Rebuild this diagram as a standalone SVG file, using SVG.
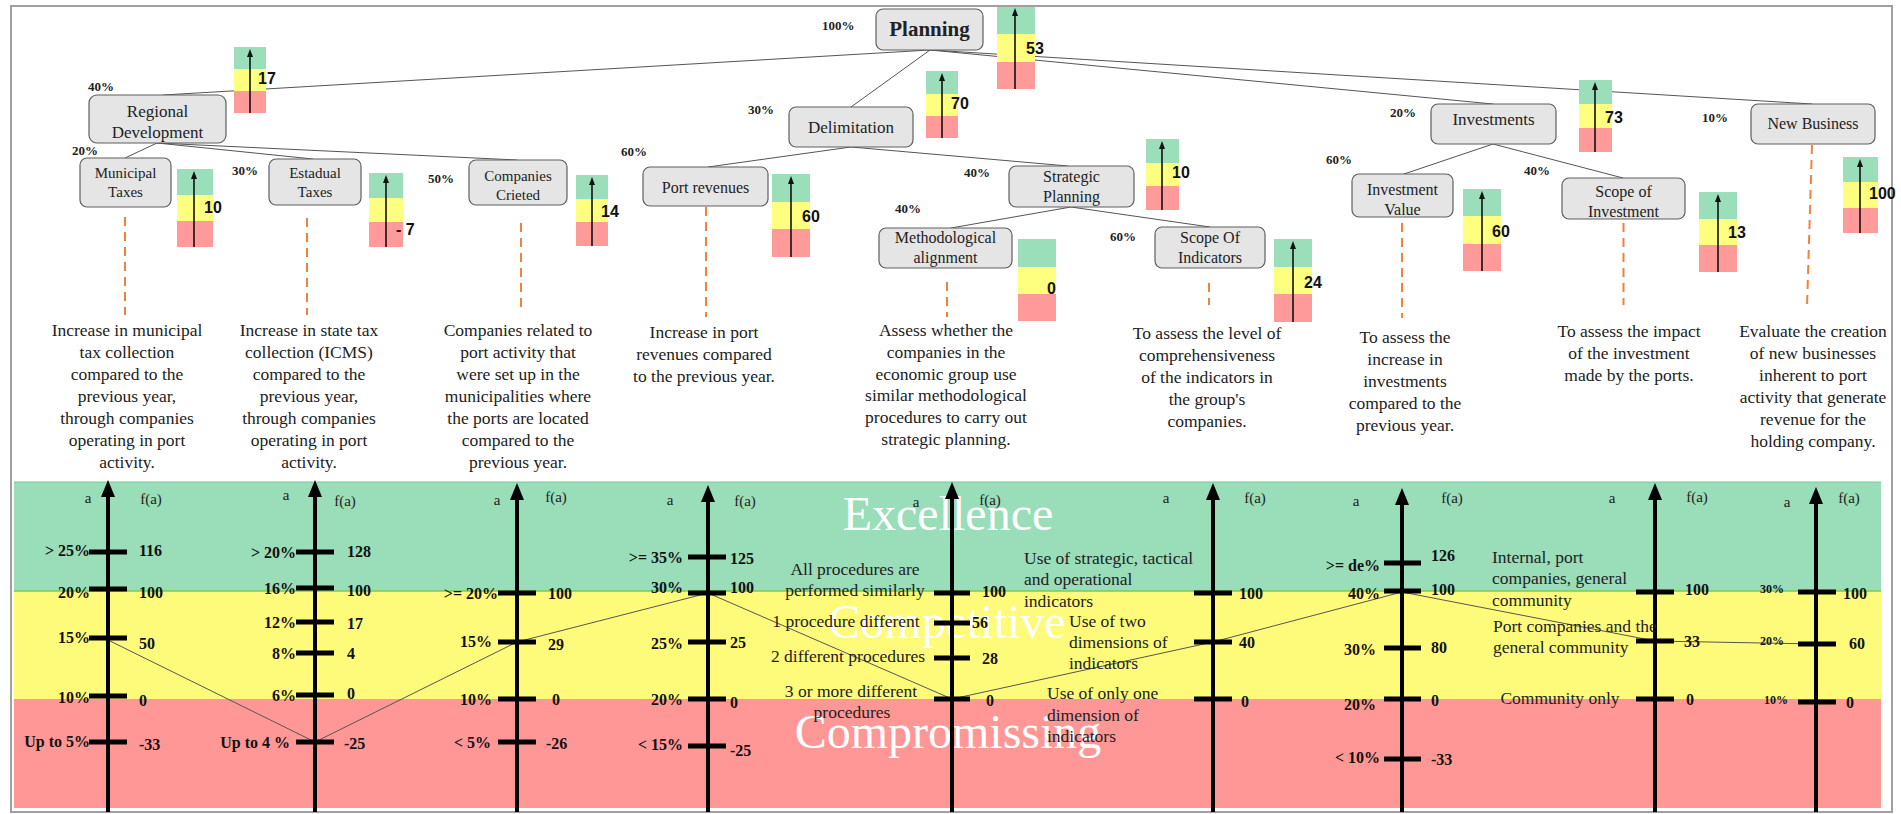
<svg xmlns="http://www.w3.org/2000/svg" xmlns:xlink="http://www.w3.org/1999/xlink" width="1901" height="814" viewBox="0 0 1901 814">
<style>
.node rect{fill:#E5E5E5;stroke:#5F5F5F;stroke-width:1.2}
.nt{font-family:"Liberation Serif",serif;font-size:16px;fill:#222;text-anchor:middle}
.nts{font-family:"Liberation Serif",serif;font-size:15px;fill:#222;text-anchor:middle}
.pct{font-family:"Liberation Serif",serif;font-size:13px;font-weight:bold;fill:#222}
.gv{font-family:"Liberation Sans",sans-serif;font-size:16px;font-weight:bold;fill:#111}
.desc{font-family:"Liberation Serif",serif;font-size:17.5px;fill:#222;text-anchor:middle}
.dash{stroke:#F0823C;stroke-width:2;stroke-dasharray:9 6;fill:none}
.edge{stroke:#555;stroke-width:1;fill:none}
.gg{fill:#9ADFB9}.gy{fill:#FFFF7F}.gr{fill:#FF9A9A}
.garr{stroke:#111;stroke-width:1.6}
.axis{stroke:#000;stroke-width:4}
.tick{stroke:#000;stroke-width:5}
.tl{font-family:"Liberation Serif",serif;font-size:16px;font-weight:bold;fill:#111;text-anchor:end}
.tls{font-family:"Liberation Serif",serif;font-size:12px;font-weight:bold;fill:#111;text-anchor:end}
.tv{font-family:"Liberation Serif",serif;font-size:16px;font-weight:bold;fill:#111}
.ax{font-family:"Liberation Serif",serif;font-size:15px;fill:#222;text-anchor:middle}
.opt{font-family:"Liberation Serif",serif;font-size:17.5px;fill:#222}
.optc{font-family:"Liberation Serif",serif;font-size:17.5px;fill:#222;text-anchor:middle}
.band{font-family:"Liberation Serif",serif;font-size:48px;fill:#fff;text-anchor:middle}
</style>
<defs>
<path id="ah" d="M-7,17 L0,0 L7,17 Z" fill="#000"/>
<path id="gah" d="M-3,8 L0,0 L3,8 Z" fill="#111"/>
</defs>
<rect x="0" y="0" width="1901" height="814" fill="#fff"/>
<rect x="11" y="6" width="1881" height="806" fill="#fff" stroke="#A0A0A0" stroke-width="2"/>

<!-- connectors -->
<g id="connectors">
<line class="edge" x1="930" y1="50" x2="163" y2="95"/>
<line class="edge" x1="930" y1="50" x2="851" y2="107"/>
<line class="edge" x1="930" y1="50" x2="1493" y2="104"/>
<line class="edge" x1="930" y1="50" x2="1812" y2="104"/>
<line class="edge" x1="157" y1="143" x2="125" y2="158"/>
<line class="edge" x1="157" y1="143" x2="313" y2="159"/>
<line class="edge" x1="157" y1="143" x2="517" y2="160"/>
<line class="edge" x1="851" y1="147" x2="708" y2="167"/>
<line class="edge" x1="851" y1="147" x2="1068" y2="166"/>
<line class="edge" x1="1071" y1="207" x2="951" y2="228"/>
<line class="edge" x1="1071" y1="207" x2="1210" y2="227"/>
<line class="edge" x1="1493" y1="144" x2="1404" y2="174"/>
<line class="edge" x1="1493" y1="144" x2="1623" y2="178"/>
<line class="dash" x1="125" y1="217" x2="125" y2="315"/>
<line class="dash" x1="307" y1="218" x2="307" y2="315"/>
<line class="dash" x1="521" y1="223" x2="521" y2="310"/>
<line class="dash" x1="706" y1="207" x2="706" y2="317"/>
<line class="dash" x1="947" y1="282" x2="947" y2="317"/>
<line class="dash" x1="1209" y1="283" x2="1209" y2="305"/>
<line class="dash" x1="1402" y1="223" x2="1402" y2="318"/>
<line class="dash" x1="1623.5" y1="223" x2="1623.5" y2="305"/>
<line class="dash" x1="1812" y1="145" x2="1807" y2="307"/>
</g>

<!-- nodes -->
<g id="node-planning" class="node"><rect x="876" y="9" width="107" height="41" rx="7"/><text x="929.5" y="36" class="nt" style="font-size:21px;font-weight:bold">Planning</text></g>
<g id="node-regional" class="node"><rect x="89" y="95" width="137" height="48" rx="8"/><text x="157.5" y="117" class="nt" style="font-size:17px">Regional</text><text x="157.5" y="138" class="nt" style="font-size:17px">Development</text></g>
<g id="node-municipal" class="node"><rect x="80" y="158" width="91" height="49" rx="7"/><text x="125.5" y="178" class="nts">Municipal</text><text x="125.5" y="197" class="nts">Taxes</text></g>
<g id="node-estadual" class="node"><rect x="269" y="159" width="92" height="46" rx="7"/><text x="315" y="178" class="nts">Estadual</text><text x="315" y="197" class="nts">Taxes</text></g>
<g id="node-companies" class="node"><rect x="469" y="160" width="98" height="45" rx="7"/><text x="518" y="181" class="nts">Companies</text><text x="518" y="200" class="nts">Crieted</text></g>
<g id="node-delimitation" class="node"><rect x="789" y="107" width="124" height="40" rx="7"/><text x="851" y="133" class="nt" style="font-size:17px">Delimitation</text></g>
<g id="node-portrevenues" class="node"><rect x="643" y="167" width="125" height="39" rx="7"/><text x="705.5" y="193" class="nt">Port revenues</text></g>
<g id="node-strategic" class="node"><rect x="1009" y="166" width="125" height="41" rx="7"/><text x="1071.5" y="182" class="nt">Strategic</text><text x="1071.5" y="202" class="nt">Planning</text></g>
<g id="node-methodological" class="node"><rect x="879" y="228" width="133" height="40" rx="7"/><text x="945.5" y="243" class="nt">Methodological</text><text x="945.5" y="263" class="nt">alignment</text></g>
<g id="node-scopeind" class="node"><rect x="1155" y="227" width="110" height="41" rx="7"/><text x="1210" y="243" class="nt">Scope Of</text><text x="1210" y="263" class="nt">Indicators</text></g>
<g id="node-investments" class="node"><rect x="1431" y="104" width="125" height="40" rx="7"/><text x="1493.5" y="125" class="nt" style="font-size:17px">Investments</text></g>
<g id="node-newbusiness" class="node"><rect x="1751" y="104" width="124" height="40" rx="7"/><text x="1813" y="129" class="nt">New Business</text></g>
<g id="node-invvalue" class="node"><rect x="1352" y="174" width="101" height="43" rx="7"/><text x="1402.5" y="195" class="nt">Investment</text><text x="1402.5" y="215" class="nt">Value</text></g>
<g id="node-scopeinv" class="node"><rect x="1562" y="178" width="123" height="41" rx="7"/><text x="1623.5" y="197" class="nt">Scope of</text><text x="1623.5" y="217" class="nt">Investment</text></g>

<!-- weights -->
<g id="weights">
<text class="pct" x="822" y="30">100%</text>
<text class="pct" x="88" y="91">40%</text>
<text class="pct" x="72" y="155">20%</text>
<text class="pct" x="232" y="175">30%</text>
<text class="pct" x="428" y="183">50%</text>
<text class="pct" x="748" y="114">30%</text>
<text class="pct" x="621" y="156">60%</text>
<text class="pct" x="964" y="177">40%</text>
<text class="pct" x="895" y="213">40%</text>
<text class="pct" x="1110" y="241">60%</text>
<text class="pct" x="1390" y="117">20%</text>
<text class="pct" x="1326" y="164">60%</text>
<text class="pct" x="1524" y="175">40%</text>
<text class="pct" x="1702" y="122">10%</text>
</g>

<!-- gauges -->
<g id="gauge-planning"><rect class="gg" x="997" y="7" width="38" height="27"/><rect class="gy" x="997" y="34" width="38" height="28"/><rect class="gr" x="997" y="62" width="38" height="27"/><line class="garr" x1="1015" y1="89" x2="1015" y2="14"/><use href="#gah" x="1015" y="8"/><text class="gv" x="1026" y="54">53</text></g>
<g id="gauge-regional"><rect class="gg" x="234" y="47" width="32" height="22"/><rect class="gy" x="234" y="69" width="32" height="22"/><rect class="gr" x="234" y="91" width="32" height="22"/><line class="garr" x1="250" y1="113" x2="250" y2="55"/><use href="#gah" x="250" y="49"/><text class="gv" x="258" y="84">17</text></g>
<g id="gauge-delimitation"><rect class="gg" x="926" y="71" width="32" height="23"/><rect class="gy" x="926" y="94" width="32" height="22"/><rect class="gr" x="926" y="116" width="32" height="22"/><line class="garr" x1="942" y1="138" x2="942" y2="79"/><use href="#gah" x="942" y="73"/><text class="gv" x="951" y="109">70</text></g>
<g id="gauge-investments"><rect class="gg" x="1579" y="80" width="33" height="24"/><rect class="gy" x="1579" y="104" width="33" height="24"/><rect class="gr" x="1579" y="128" width="33" height="24"/><line class="garr" x1="1595" y1="152" x2="1595" y2="88"/><use href="#gah" x="1595" y="82"/><text class="gv" x="1605" y="123">73</text></g>
<g id="gauge-municipal"><rect class="gg" x="177" y="169" width="36" height="26"/><rect class="gy" x="177" y="195" width="36" height="26"/><rect class="gr" x="177" y="221" width="36" height="26"/><line class="garr" x1="194" y1="247" x2="194" y2="177"/><use href="#gah" x="194" y="171"/><text class="gv" x="204" y="213">10</text></g>
<g id="gauge-estadual"><rect class="gg" x="369" y="173" width="34" height="25"/><rect class="gy" x="369" y="198" width="34" height="24"/><rect class="gr" x="369" y="222" width="34" height="25"/><line class="garr" x1="386" y1="247" x2="386" y2="181"/><use href="#gah" x="386" y="175"/><text class="gv" x="396" y="235">- 7</text></g>
<g id="gauge-companies"><rect class="gg" x="576" y="175" width="32" height="24"/><rect class="gy" x="576" y="199" width="32" height="23"/><rect class="gr" x="576" y="222" width="32" height="24"/><line class="garr" x1="592" y1="246" x2="592" y2="183"/><use href="#gah" x="592" y="177"/><text class="gv" x="601" y="217">14</text></g>
<g id="gauge-portrevenues"><rect class="gg" x="772" y="174" width="38" height="28"/><rect class="gy" x="772" y="202" width="38" height="27"/><rect class="gr" x="772" y="229" width="38" height="28"/><line class="garr" x1="791" y1="257" x2="791" y2="182"/><use href="#gah" x="791" y="176"/><text class="gv" x="802" y="222">60</text></g>
<g id="gauge-strategic"><rect class="gg" x="1146" y="139" width="33" height="24"/><rect class="gy" x="1146" y="163" width="33" height="23"/><rect class="gr" x="1146" y="186" width="33" height="24"/><line class="garr" x1="1162" y1="210" x2="1162" y2="147"/><use href="#gah" x="1162" y="141"/><text class="gv" x="1172" y="178">10</text></g>
<g id="gauge-methodological"><rect class="gg" x="1018" y="239" width="38" height="28"/><rect class="gy" x="1018" y="267" width="38" height="27"/><rect class="gr" x="1018" y="294" width="38" height="27"/><text class="gv" x="1047" y="294">0</text></g>
<g id="gauge-scopeind"><rect class="gg" x="1274" y="239" width="38" height="28"/><rect class="gy" x="1274" y="267" width="38" height="27"/><rect class="gr" x="1274" y="294" width="38" height="28"/><line class="garr" x1="1293" y1="322" x2="1293" y2="247"/><use href="#gah" x="1293" y="241"/><text class="gv" x="1304" y="288">24</text></g>
<g id="gauge-invvalue"><rect class="gg" x="1463" y="189" width="38" height="27"/><rect class="gy" x="1463" y="216" width="38" height="28"/><rect class="gr" x="1463" y="244" width="38" height="27"/><line class="garr" x1="1482" y1="271" x2="1482" y2="197"/><use href="#gah" x="1482" y="191"/><text class="gv" x="1492" y="237">60</text></g>
<g id="gauge-scopeinv"><rect class="gg" x="1699" y="192" width="38" height="27"/><rect class="gy" x="1699" y="219" width="38" height="26"/><rect class="gr" x="1699" y="245" width="38" height="27"/><line class="garr" x1="1718" y1="272" x2="1718" y2="200"/><use href="#gah" x="1718" y="194"/><text class="gv" x="1728" y="238">13</text></g>
<g id="gauge-newbusiness"><rect class="gg" x="1843" y="157" width="35" height="25"/><rect class="gy" x="1843" y="182" width="35" height="26"/><rect class="gr" x="1843" y="208" width="35" height="25"/><line class="garr" x1="1860" y1="233" x2="1860" y2="165"/><use href="#gah" x="1860" y="159"/><text class="gv" x="1869" y="199">100</text></g>

<!-- descriptions -->
<g id="descriptions">
<text class="desc" x="127" y="336">Increase in municipal<tspan x="127" dy="22">tax collection</tspan><tspan x="127" dy="22">compared to the</tspan><tspan x="127" dy="22">previous year,</tspan><tspan x="127" dy="22">through companies</tspan><tspan x="127" dy="22">operating in port</tspan><tspan x="127" dy="22">activity.</tspan></text>
<text class="desc" x="309" y="336">Increase in state tax<tspan x="309" dy="22">collection (ICMS)</tspan><tspan x="309" dy="22">compared to the</tspan><tspan x="309" dy="22">previous year,</tspan><tspan x="309" dy="22">through companies</tspan><tspan x="309" dy="22">operating in port</tspan><tspan x="309" dy="22">activity.</tspan></text>
<text class="desc" x="518" y="336">Companies related to<tspan x="518" dy="22">port activity that</tspan><tspan x="518" dy="22">were set up in the</tspan><tspan x="518" dy="22">municipalities where</tspan><tspan x="518" dy="22">the ports are located</tspan><tspan x="518" dy="22">compared to the</tspan><tspan x="518" dy="22">previous year.</tspan></text>
<text class="desc" x="704" y="338">Increase in port<tspan x="704" dy="22">revenues compared</tspan><tspan x="704" dy="22">to the previous year.</tspan></text>
<text class="desc" x="946" y="336">Assess whether the<tspan x="946" dy="21.8">companies in the</tspan><tspan x="946" dy="21.8">economic group use</tspan><tspan x="946" dy="21.8">similar methodological</tspan><tspan x="946" dy="21.8">procedures to carry out</tspan><tspan x="946" dy="21.8">strategic planning.</tspan></text>
<text class="desc" x="1207" y="339">To assess the level of<tspan x="1207" dy="22">comprehensiveness</tspan><tspan x="1207" dy="22">of the indicators in</tspan><tspan x="1207" dy="22">the group's</tspan><tspan x="1207" dy="22">companies.</tspan></text>
<text class="desc" x="1405" y="343">To assess the<tspan x="1405" dy="22">increase in</tspan><tspan x="1405" dy="22">investments</tspan><tspan x="1405" dy="22">compared to the</tspan><tspan x="1405" dy="22">previous year.</tspan></text>
<text class="desc" x="1629" y="337">To assess the impact<tspan x="1629" dy="22">of the investment</tspan><tspan x="1629" dy="22">made by the ports.</tspan></text>
<text class="desc" x="1813" y="337">Evaluate the creation<tspan x="1813" dy="22">of new businesses</tspan><tspan x="1813" dy="22">inherent to port</tspan><tspan x="1813" dy="22">activity that generate</tspan><tspan x="1813" dy="22">revenue for the</tspan><tspan x="1813" dy="22">holding company.</tspan></text>
</g>

<!-- bands -->
<g id="bands">
<rect x="14" y="482" width="1867" height="109" fill="#99DDB9"/>
<rect x="14" y="591" width="1867" height="108" fill="#FFFB7A"/>
<rect x="14" y="699" width="1867" height="109" fill="#FF9797"/>
<line x1="14" y1="591" x2="1881" y2="591" stroke="#77CC55" stroke-width="1.5"/>
<line x1="14" y1="482" x2="1881" y2="482" stroke="#77CC99" stroke-width="1"/>
<text class="band" x="948" y="530">Excellence</text>
<text class="band" x="947" y="638">Competitive</text>
<text class="band" x="948" y="748">Compromissing</text>
</g>

<polyline class="edge" points="108,640 315,742 517,642 708,593 952,699 1213,642 1402,592 1655,641 1816,644"/>

<!-- scale 1 -->
<g id="scale-1">
<line class="axis" x1="108" y1="812" x2="108" y2="494"/><use href="#ah" x="108" y="480"/>
<line class="tick" x1="89" x2="127" y1="552" y2="552"/><line class="tick" x1="89" x2="127" y1="589" y2="589"/><line class="tick" x1="89" x2="127" y1="638" y2="638"/><line class="tick" x1="89" x2="127" y1="696" y2="696"/><line class="tick" x1="89" x2="127" y1="742" y2="742"/>
<text class="ax" x="88" y="503">a</text><text class="ax" x="151" y="504">f(a)</text>
<text class="tl" x="90" y="556">&gt; 25%</text><text class="tl" x="90" y="598">20%</text><text class="tl" x="90" y="643">15%</text><text class="tl" x="90" y="703">10%</text><text class="tl" x="90" y="747">Up to  5%</text>
<text class="tv" x="139" y="556">116</text><text class="tv" x="139" y="598">100</text><text class="tv" x="139" y="649">50</text><text class="tv" x="139" y="706">0</text><text class="tv" x="139" y="750">-33</text>
</g>
<!-- scale 2 -->
<g id="scale-2">
<line class="axis" x1="315" y1="812" x2="315" y2="494"/><use href="#ah" x="315" y="480"/>
<line class="tick" x1="296" x2="334" y1="552" y2="552"/><line class="tick" x1="296" x2="334" y1="588" y2="588"/><line class="tick" x1="296" x2="334" y1="622" y2="622"/><line class="tick" x1="296" x2="334" y1="653" y2="653"/><line class="tick" x1="296" x2="334" y1="695" y2="695"/><line class="tick" x1="296" x2="334" y1="742" y2="742"/>
<text class="ax" x="286" y="500">a</text><text class="ax" x="345" y="506">f(a)</text>
<text class="tl" x="296" y="558">&gt; 20%</text><text class="tl" x="296" y="594">16%</text><text class="tl" x="296" y="628">12%</text><text class="tl" x="296" y="659">8%</text><text class="tl" x="296" y="701">6%</text><text class="tl" x="290" y="748">Up to 4 %</text>
<text class="tv" x="347" y="557">128</text><text class="tv" x="347" y="596">100</text><text class="tv" x="347" y="629">17</text><text class="tv" x="347" y="659">4</text><text class="tv" x="347" y="699">0</text><text class="tv" x="344" y="749">-25</text>
</g>
<!-- scale 3 -->
<g id="scale-3">
<line class="axis" x1="517" y1="812" x2="517" y2="497"/><use href="#ah" x="517" y="483"/>
<line class="tick" x1="498" x2="536" y1="593" y2="593"/><line class="tick" x1="498" x2="536" y1="642" y2="642"/><line class="tick" x1="498" x2="536" y1="699" y2="699"/><line class="tick" x1="498" x2="536" y1="742" y2="742"/>
<text class="ax" x="497" y="505">a</text><text class="ax" x="556" y="502">f(a)</text>
<text class="tl" x="498" y="599">&gt;= 20%</text><text class="tl" x="492" y="647">15%</text><text class="tl" x="492" y="705">10%</text><text class="tl" x="491" y="748">&lt; 5%</text>
<text class="tv" x="548" y="599">100</text><text class="tv" x="548" y="650">29</text><text class="tv" x="552" y="705">0</text><text class="tv" x="546" y="749">-26</text>
</g>
<!-- scale 4 -->
<g id="scale-4">
<line class="axis" x1="708" y1="812" x2="708" y2="499"/><use href="#ah" x="708" y="485"/>
<line class="tick" x1="688" x2="726" y1="557" y2="557"/><line class="tick" x1="688" x2="726" y1="593" y2="593"/><line class="tick" x1="688" x2="726" y1="642" y2="642"/><line class="tick" x1="688" x2="726" y1="699" y2="699"/><line class="tick" x1="688" x2="726" y1="746" y2="746"/>
<text class="ax" x="670" y="505">a</text><text class="ax" x="745" y="506">f(a)</text>
<text class="tl" x="683" y="563">&gt;= 35%</text><text class="tl" x="683" y="593">30%</text><text class="tl" x="683" y="649">25%</text><text class="tl" x="683" y="705">20%</text><text class="tl" x="683" y="750">&lt; 15%</text>
<text class="tv" x="730" y="564">125</text><text class="tv" x="730" y="593">100</text><text class="tv" x="730" y="648">25</text><text class="tv" x="730" y="708">0</text><text class="tv" x="730" y="756">-25</text>
</g>
<!-- scale 5 -->
<g id="scale-5">
<line class="axis" x1="952" y1="812" x2="952" y2="496"/><use href="#ah" x="952" y="482"/>
<line class="tick" x1="934" x2="970" y1="593" y2="593"/><line class="tick" x1="934" x2="970" y1="623" y2="623"/><line class="tick" x1="934" x2="970" y1="658" y2="658"/><line class="tick" x1="934" x2="970" y1="699" y2="699"/>
<text class="ax" x="916" y="507">a</text><text class="ax" x="990" y="505">f(a)</text>
<text class="optc" x="855" y="575">All procedures are</text><text class="optc" x="855" y="596">performed similarly</text>
<text class="optc" x="846" y="627">1 procedure different</text>
<text class="optc" x="848" y="662">2 different procedures</text>
<text class="optc" x="851" y="697">3 or more different</text><text class="optc" x="852" y="718">procedures</text>
<text class="tv" x="982" y="597">100</text><text class="tv" x="972" y="628">56</text><text class="tv" x="982" y="664">28</text><text class="tv" x="986" y="706">0</text>
</g>
<!-- scale 6 -->
<g id="scale-6">
<line class="axis" x1="1213" y1="812" x2="1213" y2="497"/><use href="#ah" x="1213" y="483"/>
<line class="tick" x1="1194" x2="1232" y1="593" y2="593"/><line class="tick" x1="1194" x2="1232" y1="642" y2="642"/><line class="tick" x1="1194" x2="1232" y1="699" y2="699"/>
<text class="ax" x="1166" y="503">a</text><text class="ax" x="1255" y="503">f(a)</text>
<text class="opt" x="1024" y="564">Use of strategic, tactical</text><text class="opt" x="1024" y="585">and operational</text><text class="opt" x="1024" y="607">indicators</text>
<text class="opt" x="1069" y="627">Use of two</text><text class="opt" x="1069" y="648">dimensions  of</text><text class="opt" x="1069" y="669">indicators</text>
<text class="opt" x="1047" y="699">Use of only one</text><text class="opt" x="1047" y="721">dimension  of</text><text class="opt" x="1047" y="742">indicators</text>
<text class="tv" x="1239" y="599">100</text><text class="tv" x="1239" y="648">40</text><text class="tv" x="1241" y="707">0</text>
</g>
<!-- scale 7 -->
<g id="scale-7">
<line class="axis" x1="1402" y1="812" x2="1402" y2="502"/><use href="#ah" x="1402" y="488"/>
<line class="tick" x1="1384" x2="1421" y1="563" y2="563"/><line class="tick" x1="1384" x2="1421" y1="591" y2="591"/><line class="tick" x1="1384" x2="1421" y1="648" y2="648"/><line class="tick" x1="1384" x2="1421" y1="699" y2="699"/><line class="tick" x1="1384" x2="1421" y1="759" y2="759"/>
<text class="ax" x="1356" y="506">a</text><text class="ax" x="1452" y="503">f(a)</text>
<text class="tl" x="1380" y="571">&gt;= de%</text><text class="tl" x="1380" y="599">40%</text><text class="tl" x="1376" y="655">30%</text><text class="tl" x="1376" y="710">20%</text><text class="tl" x="1380" y="763">&lt; 10%</text>
<text class="tv" x="1431" y="561">126</text><text class="tv" x="1431" y="595">100</text><text class="tv" x="1431" y="653">80</text><text class="tv" x="1431" y="706">0</text><text class="tv" x="1431" y="765">-33</text>
</g>
<!-- scale 8 -->
<g id="scale-8">
<line class="axis" x1="1655" y1="812" x2="1655" y2="497"/><use href="#ah" x="1655" y="483"/>
<line class="tick" x1="1636" x2="1674" y1="592" y2="592"/><line class="tick" x1="1636" x2="1674" y1="641" y2="641"/><line class="tick" x1="1636" x2="1674" y1="699" y2="699"/>
<text class="ax" x="1612" y="503">a</text><text class="ax" x="1697" y="502">f(a)</text>
<text class="opt" x="1492" y="563">Internal, port</text><text class="opt" x="1492" y="584">companies,  general</text><text class="opt" x="1492" y="606">community</text>
<text class="opt" x="1493" y="632">Port companies  and the</text><text class="opt" x="1493" y="653">general community</text>
<text class="optc" x="1560" y="704">Community  only</text>
<text class="tv" x="1685" y="595">100</text><text class="tv" x="1684" y="647">33</text><text class="tv" x="1686" y="705">0</text>
</g>
<!-- scale 9 -->
<g id="scale-9">
<line class="axis" x1="1816" y1="812" x2="1816" y2="501"/><use href="#ah" x="1816" y="487"/>
<line class="tick" x1="1798" x2="1836" y1="592" y2="592"/><line class="tick" x1="1798" x2="1836" y1="644" y2="644"/><line class="tick" x1="1798" x2="1836" y1="702" y2="702"/>
<text class="ax" x="1787" y="507">a</text><text class="ax" x="1849" y="503">f(a)</text>
<text class="tls" x="1784" y="593">30%</text><text class="tls" x="1784" y="645">20%</text><text class="tls" x="1788" y="704">10%</text>
<text class="tv" x="1843" y="599">100</text><text class="tv" x="1849" y="649">60</text><text class="tv" x="1846" y="708">0</text>
</g>
</svg>
